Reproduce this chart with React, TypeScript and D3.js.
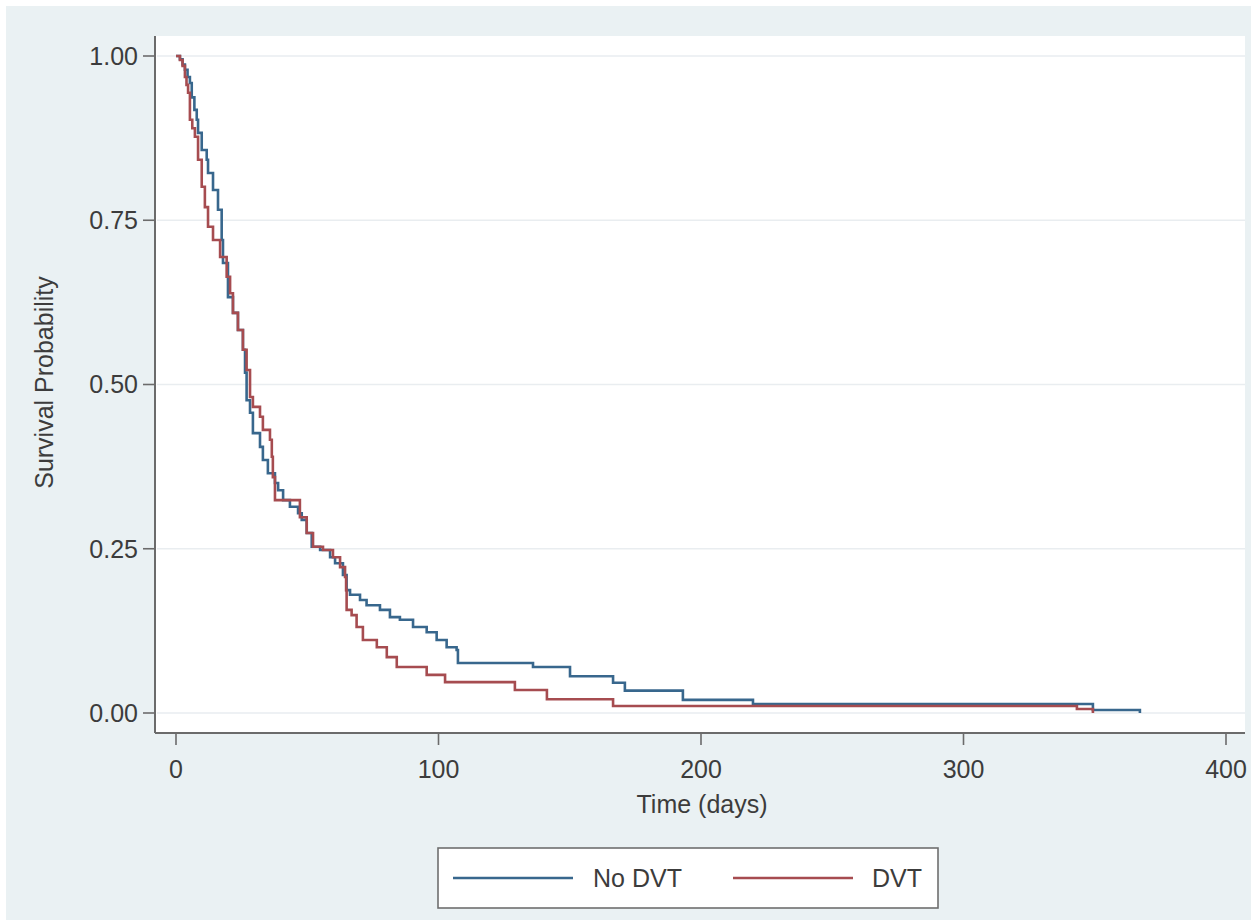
import React from "react";
import * as d3 from "d3";

// Kaplan-Meier step data (time in days, survival probability after the step)
const noDvtTime = [0, 1.5, 2.5, 3.4, 4.4, 5.3, 6.0, 7.0, 7.9, 8.4, 9.8, 11.7, 12.2, 14.1, 16.0, 17.4, 17.9, 19.8, 21.7, 23.6, 25.5, 26.3, 26.9, 28.2, 29.3, 32.0, 33.1, 35.0, 37.7, 38.9, 40.8, 43.4, 46.5, 47.9, 49.8, 51.7, 54.9, 58.7, 60.6, 63.6, 65.0, 66.3, 70.1, 72.6, 77.7, 81.5, 85.3, 90.3, 95.5, 99.3, 103.1, 106.9, 107.4, 136.0, 150.1, 166.5, 171.0, 193.1, 219.8, 349.3, 367.2];
const noDvtSurv = [1, 0.995, 0.987, 0.979, 0.968, 0.959, 0.937, 0.918, 0.903, 0.883, 0.857, 0.842, 0.822, 0.796, 0.766, 0.720, 0.685, 0.633, 0.609, 0.583, 0.553, 0.518, 0.476, 0.457, 0.426, 0.405, 0.385, 0.365, 0.350, 0.339, 0.324, 0.314, 0.304, 0.294, 0.274, 0.253, 0.248, 0.237, 0.228, 0.210, 0.187, 0.180, 0.172, 0.164, 0.157, 0.146, 0.142, 0.131, 0.123, 0.111, 0.100, 0.096, 0.076, 0.070, 0.056, 0.046, 0.034, 0.020, 0.0137, 0.0046, 0];

const dvtTime = [0, 1.5, 2.5, 3.4, 4.0, 4.6, 5.3, 6.2, 7.2, 8.4, 9.8, 11.0, 12.2, 14.1, 16.8, 19.3, 20.6, 21.7, 23.6, 25.5, 26.9, 28.2, 29.3, 32.0, 33.1, 35.8, 36.5, 36.9, 37.7, 47.2, 49.8, 52.2, 56.0, 59.8, 62.5, 64.4, 64.8, 65.0, 66.9, 68.8, 71.2, 76.5, 80.3, 84.1, 95.5, 102.5, 129.1, 141.3, 166.5, 343.2, 349.3];
const dvtSurv = [1, 0.994, 0.985, 0.968, 0.956, 0.944, 0.903, 0.890, 0.877, 0.842, 0.801, 0.770, 0.740, 0.720, 0.694, 0.664, 0.639, 0.609, 0.583, 0.553, 0.522, 0.481, 0.466, 0.451, 0.431, 0.416, 0.390, 0.359, 0.324, 0.298, 0.274, 0.253, 0.248, 0.237, 0.222, 0.207, 0.187, 0.157, 0.149, 0.131, 0.111, 0.100, 0.085, 0.070, 0.058, 0.047, 0.035, 0.021, 0.0107, 0.006, 0];

const xTicks = [0, 100, 200, 300, 400];
const yTicks = [0, 0.25, 0.5, 0.75, 1];
const yTickLabels = ["0.00", "0.25", "0.50", "0.75", "1.00"];
const seriesNames = ["No DVT", "DVT"];
const xTitle = "Time (days)";
const yTitle = "Survival Probability";

const W = 1251;
const H = 920;
const FONT = "'Liberation Sans', Arial, sans-serif";
const TEXT = "#3c3c3c";
const BLUE = "#38678d";
const RED = "#a64c50";
const FS = 25;

export default function App() {
  const x = d3.scaleLinear().domain([0, 400]).range([176, 1226]);
  const y = d3.scaleLinear().domain([0, 1]).range([713, 56]);

  const line = d3
    .line<[number, number]>()
    .x((d) => x(d[0]))
    .y((d) => y(d[1]))
    .curve(d3.curveStepAfter);

  const blueData = noDvtTime.map((t, i) => [t, noDvtSurv[i]] as [number, number]);
  const redData = dvtTime.map((t, i) => [t, dvtSurv[i]] as [number, number]);

  const plotLeft = 155;
  const plotRight = 1245;
  const plotTop = 36;
  const plotBottom = 733;

  return (
    <svg
      width={W}
      height={H}
      style={{ position: "absolute", left: 0, top: 0, display: "block" }}
      fontFamily={FONT}
    >
      <rect x={0} y={0} width={W} height={H} fill="#ffffff" />
      <rect x={6} y={6} width={W - 6} height={H - 6} fill="#eaf1f3" />
      <rect
        x={plotLeft}
        y={plotTop}
        width={plotRight - plotLeft}
        height={plotBottom - plotTop}
        fill="#ffffff"
      />
      {/* gridlines */}
      {yTicks.map((v) => (
        <line
          key={"g" + v}
          x1={plotLeft + 2}
          x2={plotRight}
          y1={y(v)}
          y2={y(v)}
          stroke="#e9edf0"
          strokeWidth={1.6}
        />
      ))}
      {/* axes */}
      <line x1={plotLeft} x2={plotLeft} y1={plotTop} y2={plotBottom} stroke="#6b6b6b" strokeWidth={2} />
      <line x1={plotLeft} x2={plotRight} y1={plotBottom} y2={plotBottom} stroke="#6b6b6b" strokeWidth={2} />
      {yTicks.map((v, i) => (
        <g key={"y" + v}>
          <line x1={plotLeft - 12} x2={plotLeft} y1={y(v)} y2={y(v)} stroke="#6b6b6b" strokeWidth={1.6} />
          <text
            x={plotLeft - 17}
            y={y(v)}
            dy="0.35em"
            textAnchor="end"
            fontSize={FS}
            fill={TEXT}
          >
            {yTickLabels[i]}
          </text>
        </g>
      ))}
      {xTicks.map((v) => (
        <g key={"x" + v}>
          <line x1={x(v)} x2={x(v)} y1={plotBottom} y2={plotBottom + 12} stroke="#6b6b6b" strokeWidth={1.6} />
          <text x={x(v)} y={769} dy="0.35em" textAnchor="middle" fontSize={FS} fill={TEXT}>
            {v}
          </text>
        </g>
      ))}
      <text x={(plotLeft + plotRight) / 2 + 2} y={804} dy="0.35em" textAnchor="middle" fontSize={FS} fill={TEXT}>
        {xTitle}
      </text>
      <text
        transform={`translate(44, ${(y(0) + y(1)) / 2 - 2}) rotate(-90)`}
        dy="0.35em"
        textAnchor="middle"
        fontSize={FS}
        fill={TEXT}
      >
        {yTitle}
      </text>
      {/* curves */}
      <path d={line(blueData) || ""} fill="none" stroke={BLUE} strokeWidth={2.6} />
      <path d={line(redData) || ""} fill="none" stroke={RED} strokeWidth={2.6} />
      {/* legend */}
      <rect x={438} y={848} width={500} height={60} fill="#ffffff" stroke="#6f6f6f" strokeWidth={1.6} />
      <line x1={453} x2={573} y1={878} y2={878} stroke={BLUE} strokeWidth={2.6} />
      <text x={593} y={878} dy="0.35em" fontSize={FS} fill={TEXT}>
        {seriesNames[0]}
      </text>
      <line x1={733} x2={853} y1={878} y2={878} stroke={RED} strokeWidth={2.6} />
      <text x={872} y={878} dy="0.35em" fontSize={FS} fill={TEXT}>
        {seriesNames[1]}
      </text>
    </svg>
  );
}
